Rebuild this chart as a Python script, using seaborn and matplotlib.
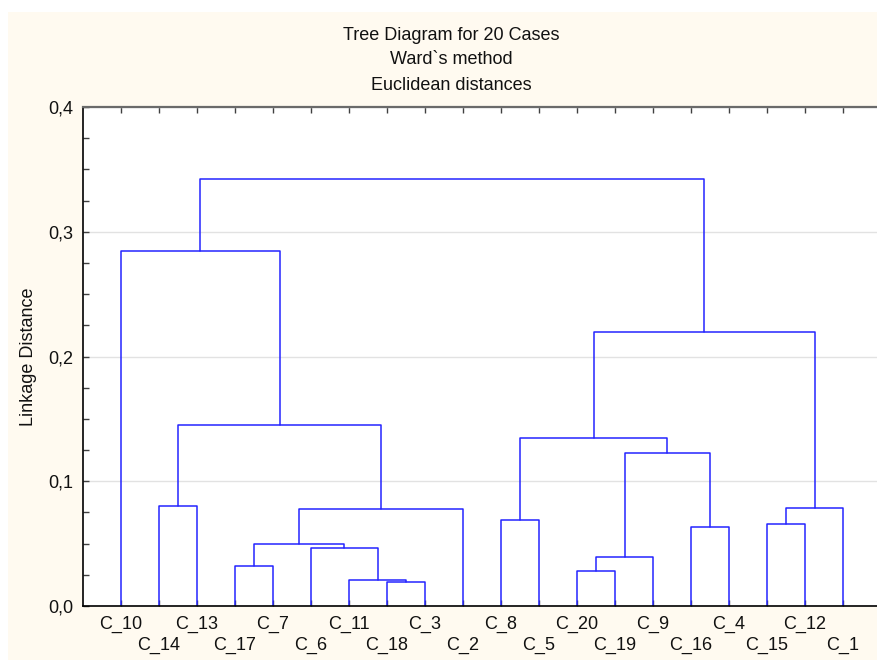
import matplotlib
matplotlib.use("Agg")
import matplotlib.pyplot as plt
from matplotlib.patches import Rectangle
from matplotlib.ticker import MultipleLocator
import pandas as pd
import seaborn as sns

# Agglomeration schedule (Ward's method): the two members joined at each step
# and the linkage distance of the join. "M<k>" names the cluster formed at step k.
merge_left = ["C_18", "C_11", "C_20", "C_17", "M3", "C_6", "M4", "C_16", "C_15", "C_8",
              "M7", "M9", "C_14", "M5", "M10", "M13", "M15", "C_10", "M18"]
merge_right = ["C_3", "M1", "C_19", "C_7", "C_9", "M2", "M6", "C_4", "C_12", "C_5",
               "C_2", "C_1", "C_13", "M8", "M14", "M11", "M12", "M16", "M17"]
merge_height = [0.0190, 0.0209, 0.0281, 0.0320, 0.0394, 0.0468, 0.0499, 0.0631, 0.0658, 0.0689,
                0.0780, 0.0788, 0.0802, 0.1229, 0.1347, 0.1452, 0.2196, 0.2846, 0.3424]

y_ticks = [0.0, 0.1, 0.2, 0.3, 0.4]
y_tick_labels = ["0,0", "0,1", "0,2", "0,3", "0,4"]
title_lines = ["Tree Diagram for 20 Cases", "Ward`s method", "Euclidean distances"]

sns.set_theme(style="white")
plt.rcParams["font.family"] = ["Liberation Sans", "DejaVu Sans"]

# ---- dendrogram geometry --------------------------------------------------
children = {f"M{k + 1}": (merge_left[k], merge_right[k]) for k in range(len(merge_left))}
heights = {f"M{k + 1}": merge_height[k] for k in range(len(merge_height))}
root = f"M{len(merge_left)}"

leaf_order = []


def collect(node):
    if node in children:
        a, b = children[node]
        collect(a)
        collect(b)
    else:
        leaf_order.append(node)


collect(root)
pos_x = {name: i + 1 for i, name in enumerate(leaf_order)}
pos_y = {name: 0.0 for name in leaf_order}


def place(node):
    if node in pos_x:
        return
    a, b = children[node]
    place(a)
    place(b)
    pos_x[node] = (pos_x[a] + pos_x[b]) / 2.0
    pos_y[node] = heights[node]


place(root)

rows = []
for k in range(len(merge_left)):
    node = f"M{k + 1}"
    a, b = children[node]
    h = heights[node]
    for px, py in [(pos_x[a], pos_y[a]), (pos_x[a], h), (pos_x[b], h), (pos_x[b], pos_y[b])]:
        rows.append({"link": node, "x": px, "y": py})
links = pd.DataFrame(rows)

# ---- figure -----------------------------------------------------------------
fig = plt.figure(figsize=(8.77, 6.60), dpi=100, facecolor="white")
fig.patches.append(Rectangle((8 / 877, 0), 1, 1 - 12 / 660, transform=fig.transFigure,
                             facecolor="#fffaf0", edgecolor="none", zorder=-10))

ax = fig.add_axes([83 / 877, 54 / 660, 798 / 877, 499 / 660])
ax.set_facecolor("white")

sns.lineplot(data=links, x="x", y="y", units="link", estimator=None, sort=False,
             color="#2424ff", linewidth=1.1, ax=ax, legend=False)

ax.set_xlim(0, len(leaf_order) + 1)
ax.set_ylim(0, 0.4)

# Case labels are staggered over two rows: odd positions on the upper row,
# even positions on the lower one.
upper_pos = [i + 1 for i in range(0, len(leaf_order), 2)]
lower_pos = [i + 1 for i in range(1, len(leaf_order), 2)]
ax.set_xticks(upper_pos)
ax.set_xticklabels([leaf_order[p - 1] for p in upper_pos], fontsize=13, color="#111111")
ax.set_xticks(lower_pos, minor=True)
ax.set_xticklabels([leaf_order[p - 1] for p in lower_pos], minor=True, fontsize=13,
                   color="#111111")

ax.set_yticks(y_ticks)
ax.set_yticklabels(y_tick_labels, fontsize=13, color="#111111")
ax.yaxis.set_minor_locator(MultipleLocator(0.025))

ax.tick_params(axis="x", which="both", direction="in", top=True, bottom=True,
               length=4, width=1, color="#404040")
ax.tick_params(axis="x", which="major", pad=7)
ax.tick_params(axis="x", which="minor", pad=22.5)
ax.tick_params(axis="y", which="both", direction="in", left=True, right=False,
               length=4, width=1, color="#404040", pad=7)

ax.grid(axis="y", which="major", color="#e2e2e2", linewidth=1)
ax.set_axisbelow(True)

for side in ["left", "bottom"]:
    ax.spines[side].set_color("black")
    ax.spines[side].set_linewidth(1.2)
ax.spines["top"].set_color("#6a6a6a")
ax.spines["top"].set_linewidth(1.6)
ax.spines["right"].set_visible(False)

ax.set_xlabel("")
ax.set_ylabel("Linkage Distance", fontsize=13, color="#111111", labelpad=8)

for i, line in enumerate(title_lines):
    fig.text(451 / 877, 1 - (35 + 25 * i) / 660, line, ha="center", va="center",
             fontsize=13, color="#111111")

fig.savefig("out.png", dpi=100, facecolor=fig.get_facecolor())
